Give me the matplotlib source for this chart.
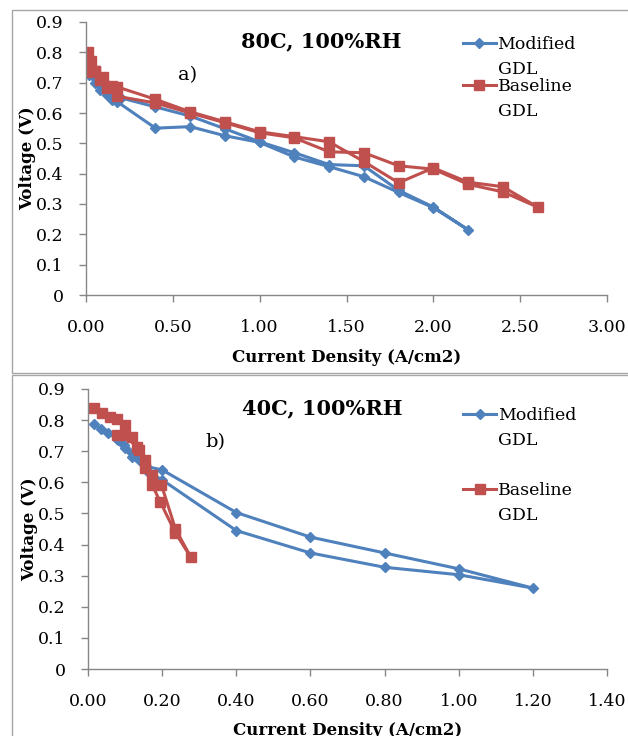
import matplotlib
matplotlib.use("Agg")
import matplotlib.pyplot as plt
from matplotlib.patches import Rectangle
from matplotlib.ticker import FormatStrFormatter

plt.rcParams['font.family'] = ['DejaVu Serif']

# 80C, 100%RH  (forward scan then return scan)
mod80_j = [0.02, 0.05, 0.08, 0.12, 0.15, 0.2, 0.4, 0.6, 0.8, 1.0, 1.2, 1.4, 1.6, 1.8, 2.0, 2.2,
           2.0, 1.8, 1.6, 1.4, 1.2, 1.0, 0.8, 0.6, 0.4, 0.18, 0.15, 0.12, 0.08, 0.05, 0.02]
mod80_v = [0.745, 0.72, 0.70, 0.68, 0.665, 0.65, 0.62, 0.59, 0.548, 0.505, 0.469, 0.43, 0.426, 0.345, 0.29, 0.215,
           0.288, 0.338, 0.39, 0.423, 0.455, 0.503, 0.525, 0.555, 0.55, 0.637, 0.644, 0.66, 0.677, 0.70, 0.726]
base80_j = [0.01, 0.03, 0.05, 0.1, 0.15, 0.18, 0.4, 0.6, 0.8, 1.0, 1.2, 1.4, 1.6, 1.8, 2.0, 2.2, 2.4, 2.6,
            2.4, 2.2, 2.0, 1.8, 1.6, 1.4, 1.2, 1.0, 0.8, 0.6, 0.4, 0.18, 0.12, 0.08, 0.05, 0.01]
base80_v = [0.80, 0.77, 0.74, 0.72, 0.69, 0.686, 0.645, 0.604, 0.571, 0.538, 0.522, 0.505, 0.44, 0.37, 0.419, 0.372, 0.357, 0.29,
            0.34, 0.365, 0.415, 0.426, 0.469, 0.472, 0.518, 0.535, 0.568, 0.60, 0.633, 0.655, 0.683, 0.71, 0.737, 0.735]

# 40C, 100%RH
mod40_j = [0.016, 0.035, 0.055, 0.078, 0.098, 0.118, 0.136, 0.16, 0.2, 0.4, 0.6, 0.8, 1.0, 1.2,
           1.0, 0.8, 0.6, 0.4, 0.2, 0.16, 0.12, 0.1, 0.08]
mod40_v = [0.787, 0.771, 0.758, 0.739, 0.72, 0.693, 0.677, 0.65, 0.64, 0.503, 0.424, 0.373, 0.322, 0.26,
           0.303, 0.327, 0.373, 0.445, 0.608, 0.635, 0.68, 0.71, 0.735]
base40_j = [0.015, 0.037, 0.06, 0.078, 0.1, 0.118, 0.133, 0.155, 0.173, 0.198, 0.236, 0.277,
            0.236, 0.195, 0.173, 0.155, 0.138, 0.1, 0.078]
base40_v = [0.838, 0.822, 0.81, 0.804, 0.785, 0.746, 0.714, 0.672, 0.624, 0.592, 0.45, 0.36,
            0.437, 0.537, 0.592, 0.646, 0.704, 0.752, 0.752]

blue = '#4F81BD'
red = '#C0504D'
grey = '#868686'

W, H = 628, 736
fig = plt.figure(figsize=(W / 100, H / 100), dpi=100)

# chart frames
fig.patches.append(Rectangle((12 / W, 1 - 373 / H), 1, 363 / H, transform=fig.transFigure,
                             fill=False, edgecolor='#A6A6A6', lw=1))
fig.patches.append(Rectangle((12 / W, -0.1), 1, 1 - 375 / H + 0.1, transform=fig.transFigure,
                             fill=False, edgecolor='#A6A6A6', lw=1))


def style_axes(ax, xmax, xstep):
    ax.set_ylim(0, 0.9)
    ax.set_xlim(0, xmax)
    ax.set_yticks([i / 10 for i in range(10)])
    ax.set_yticklabels(['0'] + ['%.1f' % (i / 10) for i in range(1, 10)])
    ax.set_xticks([i * xstep for i in range(int(round(xmax / xstep)) + 1)])
    ax.xaxis.set_major_formatter(FormatStrFormatter('%.2f'))
    for s in ['top', 'right']:
        ax.spines[s].set_visible(False)
    for s in ['left', 'bottom']:
        ax.spines[s].set_color(grey)
        ax.spines[s].set_linewidth(1)
    ax.tick_params(direction='out', length=5, width=1, color=grey, labelsize=12.5)
    ax.tick_params(axis='x', pad=12)
    ax.tick_params(axis='y', pad=11)
    ax.set_ylabel('Voltage (V)', fontsize=12, fontweight='bold', labelpad=0)


def add_legend(ax, loc_y, gap):
    leg = ax.legend(['Modified', 'Baseline'], loc='upper left', bbox_to_anchor=(0.71, loc_y),
                    frameon=False, fontsize=12.5, handlelength=1.9, handletextpad=0.1,
                    labelspacing=gap, borderaxespad=0)
    return leg


# panel a
ax1 = fig.add_axes([86 / W, 1 - 295 / H, 521 / W, 273 / H])
ax1.plot(mod80_j, mod80_v, color=blue, marker='D', ms=5.5, lw=2.2, label='Modified GDL')
ax1.plot(base80_j, base80_v, color=red, marker='s', ms=7.5, lw=2.2, label='Baseline GDL')
style_axes(ax1, 3.0, 0.5)
ax1.set_xlabel('Current Density (A/cm2)', fontsize=12, fontweight='bold', labelpad=10)
ax1.text(0.451, 0.93, '80C, 100%RH', transform=ax1.transAxes, ha='center', va='center',
         fontsize=15, fontweight='bold')
ax1.text(0.195, 0.805, 'a)', transform=ax1.transAxes, ha='center', va='center', fontsize=14)
leg1 = add_legend(ax1, 0.975, 1.45)

# panel b
ax2 = fig.add_axes([88 / W, 1 - 669 / H, 519 / W, 280 / H])
ax2.plot(mod40_j, mod40_v, color=blue, marker='D', ms=5.5, lw=2.2, label='Modified GDL')
ax2.plot(base40_j, base40_v, color=red, marker='s', ms=7.5, lw=2.2, label='Baseline GDL')
style_axes(ax2, 1.4, 0.2)
ax2.set_xlabel('Current Density (A/cm2)', fontsize=12, fontweight='bold', labelpad=9)
ax2.text(0.451, 0.93, '40C, 100%RH', transform=ax2.transAxes, ha='center', va='center',
         fontsize=15, fontweight='bold')
ax2.text(0.245, 0.81, 'b)', transform=ax2.transAxes, ha='center', va='center', fontsize=14)
leg2 = add_legend(ax2, 0.96, 3.35)

# second line of each legend label
fig.canvas.draw()
r = fig.canvas.get_renderer()
for leg in (leg1, leg2):
    for t in leg.get_texts():
        bb = t.get_window_extent(r)
        fig.text(bb.x0 / W, (bb.y0 - 25) / H, 'GDL', fontsize=12.5, ha='left', va='bottom')

fig.savefig('out.png', dpi=100)
